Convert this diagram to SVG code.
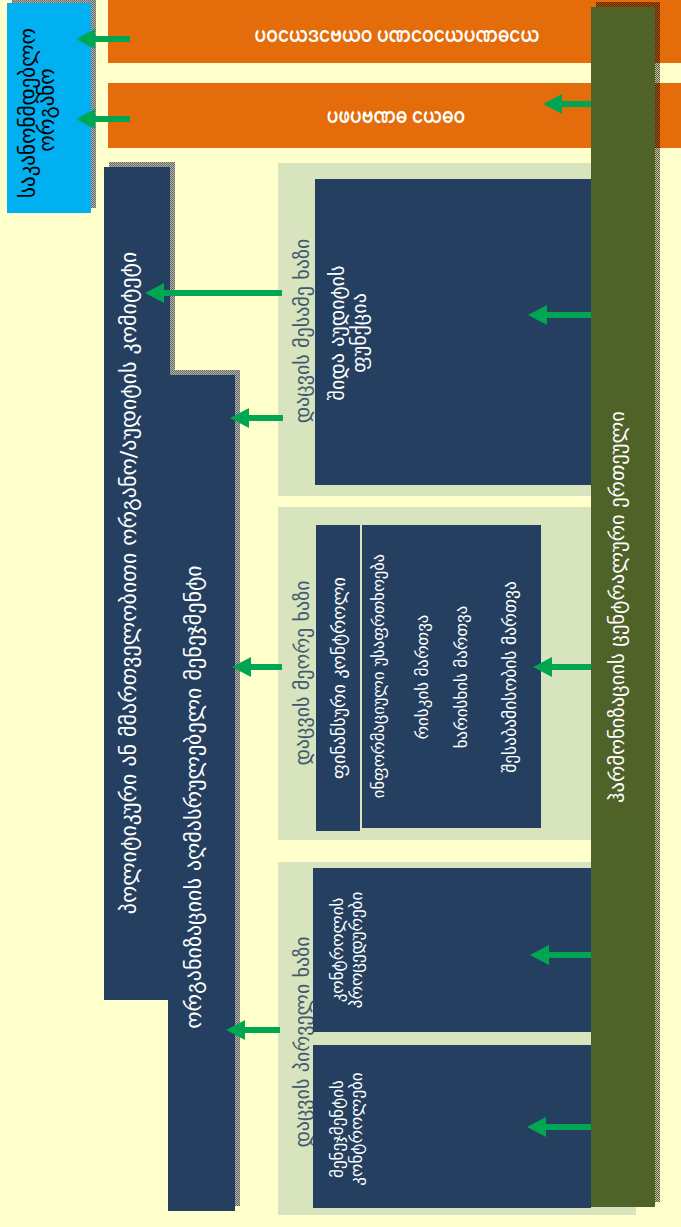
<svg xmlns="http://www.w3.org/2000/svg" width="681" height="1227" viewBox="0 0 681 1227">
<defs>
<pattern id="st" width="2" height="2" patternUnits="userSpaceOnUse">
<rect width="2" height="2" fill="#b0b0a8"/>
<rect width="1" height="1" fill="#6a6a66"/>
<rect x="1" y="1" width="1" height="1" fill="#6a6a66"/>
</pattern>
<pattern id="st2" width="2" height="2" patternUnits="userSpaceOnUse">
<rect width="2" height="2" fill="#000" fill-opacity="0.25"/>
<rect width="1" height="1" fill="#000" fill-opacity="0.5"/>
<rect x="1" y="1" width="1" height="1" fill="#000" fill-opacity="0.5"/>
</pattern>
<marker id="ah" markerUnits="userSpaceOnUse" markerWidth="19" markerHeight="20" viewBox="0 0 19 20" refX="0" refY="10" orient="auto">
<path d="M0,0 L19,10 L0,20 z" fill="#00A651"/>
</marker>
</defs>
<style>
.sh{fill:url(#st)}
.navy{fill:#243F60}
.lg{fill:#D7E4BD}
.or{fill:#E46C0A}
.t{font-family:"DejaVu Sans","Noto Sans Georgian",sans-serif;text-anchor:middle;dominant-baseline:central}
.w{fill:#fff}
.lbl{fill:#3F5A70;font-size:20px}
.c line{stroke:#00A651;stroke-width:6;marker-end:url(#ah)}
.my{font-family:"Noto Sans Myanmar","Padauk",sans-serif;font-size:22px;font-weight:600;fill:#fff;text-anchor:middle;dominant-baseline:central}
</style>
<rect width="681" height="1227" fill="#FFFFCC"/>

<g id="legislature">
<rect class="sh" x="12" y="-2" width="84" height="210"/>
<rect x="7" y="3" width="84" height="210" fill="#00B0F0"/>
<text class="t" font-size="21" fill="#000" transform="translate(28,113) rotate(-90)">საკანონმდებლო</text>
<text class="t" font-size="21" fill="#000" transform="translate(47,110) rotate(-90)">ორგანო</text>
</g>

<g id="external1">
<rect class="or" x="108" y="0" width="573" height="63"/>
<text class="my" transform="translate(397,37) scale(0.77,1)">ပဝငယဒငဗယဝ ပဏငဝငယပဏဓငယ</text>
</g>
<g id="external2">
<rect class="or" x="108" y="83" width="573" height="65"/>
<text class="my" transform="translate(396,118) scale(0.77,1)">ပဖပဗဏဓ ငယဓဝ</text>
</g>

<g id="governing-body">
<rect class="sh" x="109" y="162" width="66" height="833"/>
<rect class="navy" x="104" y="167" width="66" height="833"/>
<text class="t w" font-size="22" transform="translate(128,583) rotate(-90)">პოლიტიკური ან მმართველობითი ორგანო/აუდიტის კომიტეტი</text>
</g>

<g id="senior-management">
<rect class="sh" x="173" y="370" width="67" height="836"/>
<rect class="navy" x="168" y="375" width="67" height="836"/>
<text class="t w" font-size="22" transform="translate(193,797) rotate(-90)">ორგანიზაციის აღმასრულებელი მენეჯმენტი</text>
</g>

<g id="third-line">
<rect class="lg" x="278" y="163" width="358" height="333"/>
<text class="t lbl" transform="translate(302,331) rotate(-90)">დაცვის მესამე ხაზი</text>
<rect class="navy" x="315" y="179" width="276" height="306"/>
<text class="t w" font-size="20" transform="translate(337,333) rotate(-90)">შიდა აუდიტის</text>
<text class="t w" font-size="20" transform="translate(359,333) rotate(-90)">ფუნქცია</text>
</g>

<g id="second-line">
<rect class="lg" x="278" y="507" width="358" height="333"/>
<text class="t lbl" transform="translate(302,673) rotate(-90)">დაცვის მეორე ხაზი</text>
<rect class="navy" x="316" y="525" width="44" height="306"/>
<text class="t w" font-size="18" transform="translate(338,678) rotate(-90)">ფინანსური კონტროლი</text>
<rect class="navy" x="362" y="525" width="179" height="303"/>
<text class="t w" font-size="16.5" transform="translate(378,676) rotate(-90)">ინფორმაციული უსაფრთხოება</text>
<text class="t w" font-size="17" transform="translate(422,677) rotate(-90)">რისკის მართვა</text>
<text class="t w" font-size="17" transform="translate(461,677) rotate(-90)">ხარისხის მართვა</text>
<text class="t w" font-size="17.5" transform="translate(510,677) rotate(-90)">შესაბამისობის მართვა</text>
</g>

<g id="first-line">
<rect class="lg" x="278" y="862" width="358" height="353"/>
<text class="t lbl" transform="translate(302,1042) rotate(-90)">დაცვის პირველი ხაზი</text>
<rect class="navy" x="313" y="868" width="278" height="164"/>
<text class="t w" font-size="17" transform="translate(337,950) rotate(-90)">კონტროლის</text>
<text class="t w" font-size="17" transform="translate(356,950) rotate(-90)">პროცედურები</text>
<rect class="navy" x="313" y="1045" width="278" height="163"/>
<text class="t w" font-size="17" transform="translate(337,1129) rotate(-90)">მენეჯმენტის</text>
<text class="t w" font-size="17" transform="translate(356,1129) rotate(-90)">კონტროლები</text>
</g>

<g id="chu">
<rect fill="url(#st2)" x="596" y="2" width="64" height="1200"/>
<rect x="591" y="7" width="64" height="1200" fill="#4F6228"/>
<text class="t w" font-size="20.5" transform="translate(617,607) rotate(-90)">ჰარმონიზაციის ცენტრალური ერთეული</text>
</g>

<g id="connectors" class="c">
<line x1="130" y1="39" x2="95" y2="39"/>
<line x1="130" y1="119" x2="95" y2="119"/>
<line x1="591" y1="104" x2="562" y2="104"/>
<line x1="282" y1="293" x2="164" y2="293"/>
<line x1="283" y1="418" x2="249" y2="418"/>
<line x1="282" y1="667" x2="251" y2="667"/>
<line x1="280" y1="1030" x2="245" y2="1030"/>
<line x1="591" y1="315" x2="547" y2="315"/>
<line x1="591" y1="667" x2="552" y2="667"/>
<line x1="591" y1="955" x2="549" y2="955"/>
<line x1="591" y1="1127" x2="546" y2="1127"/>
</g>
</svg>
